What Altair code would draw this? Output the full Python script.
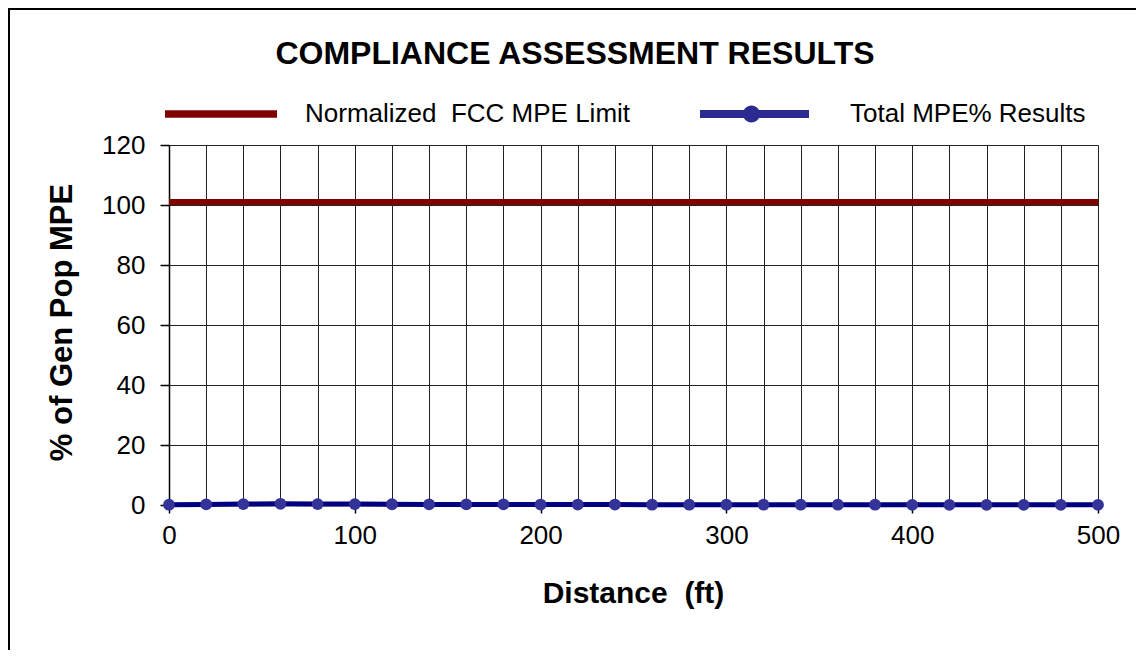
import altair as alt
import pandas as pd

# ---- data ----
distance_ft = [0, 20, 40, 60, 80, 100, 120, 140, 160, 180, 200, 220, 240, 260,
               280, 300, 320, 340, 360, 380, 400, 420, 440, 460, 480, 500]
limit_pct = [101] * len(distance_ft)
total_mpe_pct = [0.1, 0.2, 0.3, 0.4, 0.3, 0.3, 0.25, 0.2, 0.2, 0.2, 0.15, 0.15, 0.15,
                 0.1, 0.1, 0.1, 0.1, 0.1, 0.1, 0.1, 0.05, 0.05, 0.05, 0.05, 0.05, 0.05]
series_names = ["Normalized\u00a0 FCC MPE Limit", "Total MPE% Results"]
chart_title = "COMPLIANCE ASSESSMENT RESULTS"
x_ticks = list(range(0, 501, 20))
y_ticks = list(range(0, 121, 20))

rows = []
for d, v in zip(distance_ft, limit_pct):
    rows.append({"distance": d, "value": v, "series": series_names[0]})
for d, v in zip(distance_ft, total_mpe_pct):
    rows.append({"distance": d, "value": v, "series": series_names[1]})
df = pd.DataFrame(rows)

FONT = "Liberation Sans"
RED = "#800000"
NAVY = "#000080"
BLUE = "#333399"

x_enc = alt.X("distance:Q",
              scale=alt.Scale(domain=[0, 500], nice=False),
              axis=alt.Axis(values=x_ticks, tickCount=60,
                            labelExpr="datum.value % 100 === 0 ? datum.label : ''",
                            tickOpacity=alt.expr("datum.value % 100 === 0 ? 1 : 0"),
                            labelOverlap=False,
                            title="Distance\u00a0 (ft)",
                            titleX=464, titleY=88, titleFontSize=30,
                            titleAlign="center", titleBaseline="middle",
                            tickSize=8, labelPadding=9, labelFlush=False))
y_enc = alt.Y("value:Q",
              scale=alt.Scale(domain=[0, 120], nice=False),
              axis=alt.Axis(values=y_ticks, tickCount=30, labelOverlap=False,
                            title="% of Gen Pop MPE",
                            titleX=-107, titleY=177, titleAngle=270, titleFontSize=31,
                            titleAlign="center", titleBaseline="middle",
                            tickSize=9, labelPadding=15))

sym_red = "M-0.836,-0.06H1V0.06H-0.836Z"
sym_blue = ("M-1,-0.066H0.787V0.066H-1Z "
            "M-0.296,0A0.14,0.14,0,1,1,-0.016,0A0.14,0.14,0,1,1,-0.296,0Z")
is_red = "datum.value === '%s'" % series_names[0]

legend = alt.Legend(
    orient="none", legendX=-14, legendY=-92, direction="horizontal",
    title=None, symbolSize=122 * 122, labelOffset=28, columnPadding=69,
    labelFontSize=26, labelFont=FONT, labelColor="black", labelLimit=600,
    padding=0, offset=0,
    symbolType=alt.expr("%s ? '%s' : '%s'" % (is_red, sym_red, sym_blue)),
    symbolFillColor=alt.expr("%s ? '%s' : '%s'" % (is_red, RED, "#2a2a90")),
    symbolStrokeColor="transparent",
    symbolStrokeWidth=0, symbolOpacity=1,
)

color_enc = alt.Color("series:N", scale=alt.Scale(domain=series_names, range=[RED, NAVY]),
                      legend=legend)

red_line = alt.Chart(df).transform_filter(
    alt.datum.series == series_names[0]
).mark_line(strokeWidth=6).encode(x=x_enc, y=y_enc, color=color_enc)

blue_line = alt.Chart(df).transform_filter(
    alt.datum.series == series_names[1]
).mark_line(strokeWidth=5).encode(x="distance:Q", y="value:Q", color=color_enc)

points = alt.Chart(df).transform_filter(
    alt.datum.series == series_names[1]
).mark_point(filled=True, size=140, color=BLUE, opacity=1).encode(x="distance:Q", y="value:Q")

frame = alt.Chart(alt.Data(values=[{}])).mark_rect(
    fill="transparent", stroke="black", strokeWidth=2
).encode(x=alt.value(-160), y=alt.value(-136), x2=alt.value(990), y2=alt.value(530))

title_mark = alt.Chart(alt.Data(values=[{"t": chart_title}])).mark_text(
    font=FONT, fontSize=32, fontWeight="bold", color="black",
    align="center", baseline="middle"
).encode(text="t:N", x=alt.value(406), y=alt.value(-91))

chart = alt.layer(frame, red_line, blue_line, points, title_mark).properties(
    width=929, height=360,
    background="white",
    padding={"left": 161, "top": 137, "right": 38, "bottom": 145},
    autosize=alt.AutoSizeParams(type="none"),
).configure_view(stroke=None).configure_axis(
    labelFont=FONT, labelFontSize=26, labelColor="black",
    titleFont=FONT, titleFontSize=29, titleFontWeight="bold", titleColor="black",
    gridColor="#222", gridOpacity=1, gridWidth=1,
    domainColor="black", domainWidth=1.5, tickColor="black", tickWidth=1.5,
)

chart.save("out.html", embed_options={"renderer": "svg", "actions": False})
